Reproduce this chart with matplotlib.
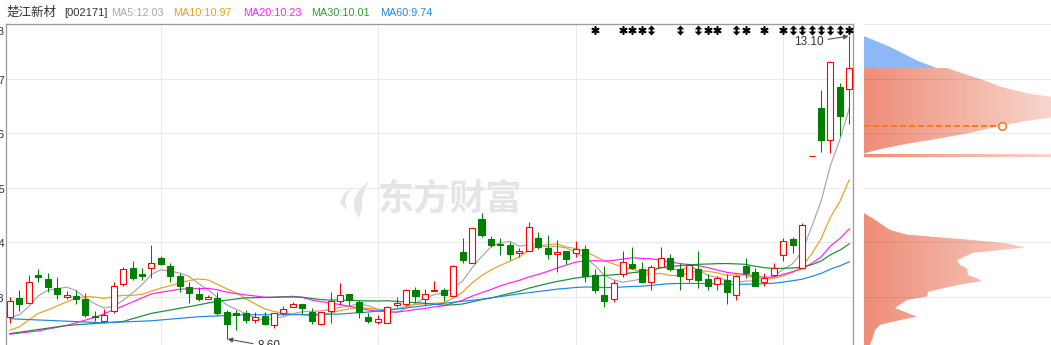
import numpy as np
import pandas as pd
import matplotlib
matplotlib.use("Agg")
import matplotlib.pyplot as plt
import matplotlib.transforms as mtransforms
from matplotlib.patches import Rectangle, Polygon
from matplotlib.path import Path
from matplotlib.colors import LinearSegmentedColormap

# daily candles, 楚江新材 002171
opens = [8.92, 9.21, 9.14, 9.55, 9.49, 9.36, 9.23, 9.24, 9.19, 8.94,
         8.86, 9.01, 9.42, 9.65, 9.56, 9.65, 9.80, 9.68, 9.54, 9.37,
         9.27, 9.19, 9.21, 9.00, 8.98, 8.98, 8.88, 8.94, 8.81, 8.98,
         9.08, 9.12, 9.00, 8.82, 9.01, 9.16, 9.27, 9.15, 8.92, 8.85,
         8.83, 9.10, 9.12, 9.33, 9.20, 9.31, 9.33, 9.24, 9.89, 9.73,
         10.38, 10.08, 10.01, 10.00, 9.88, 9.91, 10.10, 9.95, 9.86, 9.90,
         9.87, 9.93, 9.55, 9.25, 9.19, 9.57, 9.71, 9.64, 9.44, 9.67,
         9.81, 9.64, 9.49, 9.64, 9.49, 9.41, 9.48, 9.26, 9.68, 9.59,
         9.44, 9.55, 9.85, 10.08, 9.65, 11.32, 12.03, 11.55, 12.34, 12.31]
highs = [9.23, 9.32, 9.55, 9.64, 9.58, 9.52, 9.31, 9.33, 9.29, 9.02,
         9.05, 9.44, 9.67, 9.76, 9.65, 10.00, 9.83, 9.73, 9.58, 9.44,
         9.37, 9.26, 9.30, 9.03, 9.03, 9.03, 9.00, 9.00, 8.98, 9.09,
         9.15, 9.12, 9.06, 9.00, 9.30, 9.43, 9.27, 9.18, 8.98, 8.96,
         9.09, 9.23, 9.34, 9.37, 9.34, 9.46, 9.35, 9.70, 10.10, 10.25,
         10.47, 10.13, 10.10, 10.04, 9.95, 10.34, 10.19, 10.15, 10.07, 9.90,
         10.05, 10.00, 9.64, 9.69, 9.48, 9.90, 9.97, 9.74, 9.70, 9.96,
         9.86, 9.73, 9.71, 9.90, 9.57, 9.54, 9.57, 9.55, 9.81, 9.65,
         9.58, 9.73, 10.10, 10.11, 10.32, 11.32, 12.30, 12.73, 12.40, 13.10]
lows = [8.83, 9.02, 9.14, 9.44, 9.30, 9.20, 9.19, 9.12, 8.92, 8.86,
        8.86, 8.98, 9.38, 9.48, 9.48, 9.51, 9.70, 9.45, 9.30, 9.13,
        9.16, 9.19, 8.96, 8.60, 8.74, 8.83, 8.83, 8.81, 8.76, 8.96,
        9.08, 8.97, 8.82, 8.81, 8.84, 9.11, 9.11, 8.91, 8.84, 8.82,
        8.83, 9.07, 9.09, 9.15, 9.11, 9.31, 9.17, 9.24, 9.73, 9.73,
        10.12, 9.97, 9.85, 9.78, 9.82, 9.91, 9.93, 9.79, 9.59, 9.71,
        9.82, 9.44, 9.28, 9.07, 9.15, 9.52, 9.64, 9.43, 9.33, 9.67,
        9.61, 9.33, 9.44, 9.35, 9.33, 9.33, 9.12, 9.18, 9.51, 9.38,
        9.38, 9.54, 9.76, 9.87, 9.65, 11.32, 11.38, 11.37, 11.62, 11.79]
closes = [9.17, 9.12, 9.44, 9.52, 9.37, 9.27, 9.25, 9.20, 8.96, 8.93,
          8.96, 9.38, 9.64, 9.51, 9.54, 9.73, 9.71, 9.54, 9.38, 9.29,
          9.20, 9.23, 8.99, 8.82, 8.95, 8.88, 8.92, 8.82, 8.98, 9.04,
          9.12, 9.06, 8.86, 9.00, 9.16, 9.26, 9.18, 9.00, 8.87, 8.89,
          9.07, 9.13, 9.32, 9.24, 9.27, 9.33, 9.26, 9.68, 9.77, 10.25,
          10.15, 9.99, 9.99, 9.86, 9.90, 10.26, 9.96, 9.86, 9.89, 9.79,
          9.93, 9.54, 9.32, 9.17, 9.43, 9.75, 9.66, 9.45, 9.67, 9.81,
          9.64, 9.53, 9.70, 9.47, 9.38, 9.51, 9.30, 9.53, 9.58, 9.39,
          9.50, 9.66, 10.05, 10.00, 10.29, 11.32, 11.56, 12.72, 11.92, 12.63]

# moving averages before enough days are on screen
ma5_head_idx = [0, 1, 2, 3]
ma5_head = [8.92, 8.96, 9.08, 9.24]
ma10_head_idx = [0, 1, 2, 3, 4, 5, 6, 7, 8]
ma10_head = [8.73, 8.78, 8.88, 8.98, 9.03, 9.09, 9.15, 9.20, 9.23]
ma20_head_idx = [0, 3, 6, 9, 12, 15, 18]
ma20_head = [8.67, 8.72, 8.80, 8.92, 9.09, 9.27, 9.34]
ma30_head_idx = [0, 6, 12, 15, 19, 22, 25, 28]
ma30_head = [8.68, 8.80, 8.86, 8.98, 9.08, 9.16, 9.21, 9.22]
ma60_head_idx = [0, 5, 10, 15, 20, 25, 30, 35, 38, 42, 46, 50, 54, 58]
ma60_head = [8.90, 8.87, 8.84, 8.87, 8.93, 8.96, 8.96, 8.97, 9.00, 9.06,
             9.13, 9.19, 9.27, 9.34]

ma_labels = ["MA5:12.03", "MA10:10.97", "MA20:10.23", "MA30:10.01", "MA60:9.74"]
ma_colors = ["#A8A8A8", "#E9A21C", "#FF22FF", "#1F8B3A", "#1E88E5"]

y_levels = [13.28, 12.47, 11.66, 10.85, 10.04, 9.23]
month_starts = [16, 39, 60, 82]
star_idx = [62, 65, 66, 67, 74, 75, 78, 80, 82, 89]
arrow_idx = [68, 71, 73, 77, 83, 84, 85, 86, 87, 88]

# chip distribution (price, amount)
blue_price = [13.10, 12.94, 12.73, 12.625]
blue_amt = [0, 26, 54, 73]
chip_hi_price = [12.625, 12.52, 12.45, 12.35, 12.25, 12.20, 12.05, 11.89,
                 11.83, 11.77, 11.73, 11.66, 11.58, 11.50, 11.42, 11.37, 11.36]
chip_hi_amt = [83, 104, 119, 136, 163, 187, 205, 187, 158, 138, 126, 106,
               76, 43, 16, 3, 0]
chip_spike_price = [11.35, 11.345, 11.305, 11.30]
chip_spike_amt = [0, 240, 240, 0]
chip_lo_price = [10.47, 10.39, 10.22, 10.15, 10.11, 10.07, 10.02, 9.96, 9.92,
                 9.88, 9.77, 9.70, 9.65, 9.55, 9.50, 9.46, 9.40, 9.30, 9.23,
                 9.18, 9.06, 8.93, 8.88, 8.81, 8.73, 8.63, 8.51, 8.45]
chip_lo_amt = [0, 9, 26, 43, 76, 109, 143, 161, 136, 109, 93, 96, 103, 104,
               113, 118, 93, 64, 63, 43, 31, 53, 36, 16, 11, 9, 6, 5]
avg_cost = 11.77

RED = "#FF0000"
GREEN = "#008000"
W, H = 1051, 345
px = 0.72  # one pixel in points
YLIM = (8.51, 13.28)

fig = plt.figure(figsize=(W / 100, H / 100), dpi=100)
ax = fig.add_axes([6 / W, 0, 847 / W, 321 / H])
ax.set_xlim(-0.42, 89.39)
ax.set_ylim(*YLIM)
ax.set_xticks([])
ax.set_yticks([])
ax.spines["bottom"].set_visible(False)
for s in ["left", "top", "right"]:
    ax.spines[s].set_color("#9B9B9B")
    ax.spines[s].set_linewidth(1.3 * px)

for lv in y_levels[1:]:
    ax.axhline(lv, color="#EAEAEA", lw=px, zorder=0.5)
for m in month_starts:
    ax.axvline(m, color="#EAEAEA", lw=px, zorder=0.5)

# price labels sit half outside the picture, as in the source screenshot
for i, lv in enumerate(y_levels):
    ax.annotate(f"{lv:.2f}", xy=(0, lv), xycoords=("axes fraction", "data"),
                xytext=(-1.1, -2.5 if i == 0 else -1.6), textcoords="offset points",
                ha="right", va="top" if i == 0 else "center",
                fontsize=8, color="#333333", family="Liberation Sans",
                annotation_clip=False)

# watermark
ax.text(0.524, 0.455, "东方财富", transform=ax.transAxes, ha="center", va="center",
        fontsize=26, fontweight="bold", color="#E4E4E9", zorder=1,
        family=["Noto Sans CJK SC", "DejaVu Sans"])
pxt = mtransforms.Affine2D().scale(1 / W, -1 / H).translate(0, 1) + fig.transFigure
logo_a = [(369, 181), (360, 189), (354, 199), (354, 209), (359, 218),
          (362, 208), (362, 198), (365, 189)]
logo_b = [(353, 186), (344, 194), (340, 203), (348, 211), (345, 203),
          (347, 195)]
for shape in (logo_a, logo_b):
    fig.patches.append(Polygon(shape, closed=True, transform=pxt,
                               facecolor="#E4E4E9", edgecolor="none", zorder=1))

# moving averages
n = len(closes)
cs = pd.Series(closes)
heads = [(5, ma5_head_idx, ma5_head), (10, ma10_head_idx, ma10_head),
         (20, ma20_head_idx, ma20_head), (30, ma30_head_idx, ma30_head),
         (60, ma60_head_idx, ma60_head)]
for (days, hidx, hval), col in zip(heads, ma_colors):
    roll = cs.rolling(days).mean().values
    xs = np.concatenate([hidx, np.arange(days - 1, n)])
    ys = np.concatenate([hval, roll[days - 1:]])
    ax.plot(xs, ys, color=col, lw=1.2 * px, zorder=2)

# candles
for i in range(n):
    o, h, l, c = opens[i], highs[i], lows[i], closes[i]
    up = c > o or (c == o and (i == 0 or c >= closes[i - 1]))
    col = RED if up else GREEN
    ax.vlines(i, l, h, color=col, lw=px, zorder=3)
    ax.add_patch(Rectangle((i - 0.32, min(o, c)), 0.64, abs(c - o),
                           facecolor="white" if up else col, edgecolor=col,
                           lw=1.1 * px, zorder=4))

# signal marks along the top
mark_y = 13.19
ax.plot(star_idx, [mark_y] * len(star_idx), ls="none", marker=(6, 2, 0),
        ms=6, mew=1.6 * px, color="black", zorder=5)
dbl = Path([(0, 1), (0.75, 0.22), (0.22, 0.22), (0.22, -0.22), (0.75, -0.22),
            (0, -1), (-0.75, -0.22), (-0.22, -0.22), (-0.22, 0.22),
            (-0.75, 0.22), (0, 1)])
ax.plot(arrow_idx, [mark_y] * len(arrow_idx), ls="none", marker=dbl,
        ms=7.2, mew=0, color="black", zorder=5)

hi_i = int(np.argmax(highs))
lo_i = int(np.argmin(lows))
arrow_kw = dict(arrowstyle="-|>", color="#555555", lw=0.8, mutation_scale=7,
                shrinkA=1, shrinkB=0.5)
ax.annotate(f"{highs[hi_i]:.2f}", xy=(hi_i, highs[hi_i]), xytext=(-29, -4.3),
            textcoords="offset points", ha="center", va="center", fontsize=8.5,
            color="#333333", family="Liberation Sans", arrowprops=arrow_kw, zorder=6)
ax.annotate(f"{lows[lo_i]:.2f}", xy=(lo_i, lows[lo_i]), xytext=(30, -5.4),
            textcoords="offset points", ha="center", va="center", fontsize=8.5,
            color="#333333", family="Liberation Sans", arrowprops=arrow_kw,
            annotation_clip=False, zorder=6)

# title line
ty = (H - 12.5) / H
fig.text(7 / W, ty, "楚江新材", ha="left", va="center", fontsize=9, color="#333333",
         family=["Noto Sans CJK SC", "DejaVu Sans"])
fig.text(64 / W, ty, "[002171]", ha="left", va="center", fontsize=8,
         color="#333333", family="Liberation Sans")
for xpos, lab, col in zip([111, 173, 243, 311, 380], ma_labels, ma_colors):
    fig.text(xpos / W, ty, lab, ha="left", va="center", fontsize=7.8,
             color="#2E9E2E" if lab.startswith("MA30") else col,
             family="Liberation Sans")

# chip distribution panel
cx = fig.add_axes([864 / W, 0, 187 / W, 321 / H])
cx.axis("off")
grad = np.linspace(0, 1, 256).reshape(1, -1)
cmap = LinearSegmentedColormap.from_list("chip", ["#EE8D78", "#F8D6CC"])
lobes = [(chip_hi_amt, chip_hi_price), (chip_spike_amt, chip_spike_price),
         (chip_lo_amt, chip_lo_price)]
for amt, price in lobes:
    verts = [(0, price[0])] + list(zip(amt, price)) + [(0, price[-1])]
    patch = Polygon(verts, closed=True, facecolor="none", edgecolor="none")
    cx.add_patch(patch)
    im = cx.imshow(grad, extent=[0, 187, YLIM[0], YLIM[1]], aspect="auto",
                   cmap=cmap, zorder=2, interpolation="bilinear")
    im.set_clip_path(patch)
bverts = [(0, blue_price[0])] + list(zip(blue_amt, blue_price)) + [(0, blue_price[-1])]
cx.add_patch(Polygon(bverts, closed=True, facecolor="#8DB8F6", edgecolor="none",
                     zorder=2))
for lv in y_levels:
    cx.axhline(lv, color="black", alpha=0.075, lw=px, zorder=3, clip_on=False)

cost_len = np.interp(avg_cost, chip_hi_price[::-1], chip_hi_amt[::-1])
cx.plot([0, cost_len], [avg_cost, avg_cost], color="#F47B20", lw=2 * px,
        dashes=(3, 1.5), zorder=4)
cx.plot([cost_len], [avg_cost], marker="o", ms=5.5, mfc="white", mec="#F47B20",
        mew=1.6 * px, zorder=5)
cx.set_xlim(0, 187)
cx.set_ylim(*YLIM)

fig.savefig("out.png", dpi=100)
